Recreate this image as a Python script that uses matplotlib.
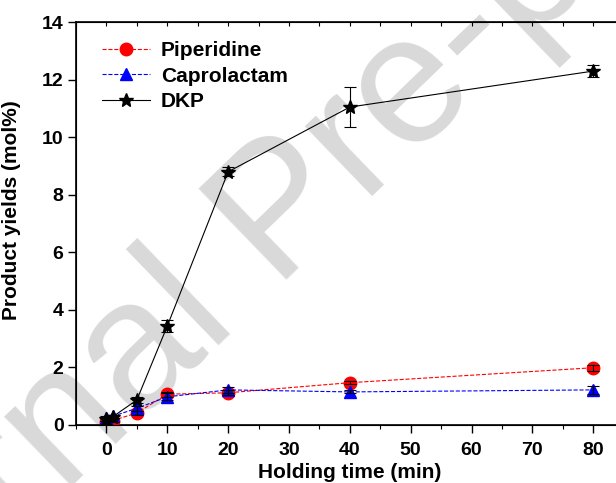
import matplotlib
matplotlib.use("Agg")
import matplotlib.pyplot as plt
from matplotlib.ticker import MultipleLocator

time_min = [0, 1, 5, 10, 20, 40, 80]

piperidine = [0.10, 0.15, 0.42, 1.07, 1.12, 1.47, 1.99]
piperidine_err = [0.05, 0.05, 0.08, 0.08, 0.08, 0.05, 0.10]

caprolactam = [0.25, 0.30, 0.58, 0.98, 1.22, 1.15, 1.22]
caprolactam_err = [0.05, 0.05, 0.08, 0.12, 0.10, 0.05, 0.15]

dkp = [0.20, 0.28, 0.87, 3.44, 8.80, 11.05, 12.30]
dkp_err = [0.05, 0.05, 0.10, 0.20, 0.15, 0.70, 0.22]

plt.rcParams['font.family'] = ['Liberation Sans', 'DejaVu Sans']
plt.rcParams['font.weight'] = 'bold'

fig = plt.figure(figsize=(6.16, 4.83), dpi=100)
ax = fig.add_axes([0.1234, 0.1201, 0.889, 0.834])

# watermark behind the data
ax.text(0.438, 0.434, "Journal Pre-proof", transform=ax.transAxes, rotation=44,
        rotation_mode="anchor", fontsize=132, color="#d9d9d9",
        ha="center", va="baseline", fontweight="normal", zorder=0.5,
        clip_on=False)

ax.plot(time_min, piperidine, color="red", linestyle="--", linewidth=0.8,
        marker="o", markersize=9, label="Piperidine", zorder=3)
ax.errorbar(time_min, piperidine, yerr=piperidine_err, fmt="none", ecolor="black",
            elinewidth=0.8, capsize=4, capthick=0.8, zorder=4)

ax.plot(time_min, caprolactam, color="blue", linestyle="--", linewidth=0.8,
        marker="^", markersize=9, label="Caprolactam", zorder=3)
ax.errorbar(time_min, caprolactam, yerr=caprolactam_err, fmt="none", ecolor="black",
            elinewidth=0.8, capsize=4, capthick=0.8, zorder=4)

ax.plot(time_min, dkp, color="black", linestyle="-", linewidth=0.8,
        marker="*", markersize=10, label="DKP", zorder=3)
ax.errorbar(time_min, dkp, yerr=dkp_err, fmt="none", ecolor="black",
            elinewidth=0.8, capsize=4, capthick=0.8, zorder=4)

ax.set_xlim(-5, 85)
ax.set_ylim(0, 14)
ax.xaxis.set_major_locator(MultipleLocator(10))
ax.xaxis.set_minor_locator(MultipleLocator(5))
ax.yaxis.set_major_locator(MultipleLocator(2))

for side in ["left", "bottom", "top"]:
    ax.spines[side].set_linewidth(1.2)
ax.spines["right"].set_visible(False)

ax.tick_params(axis="both", which="major", labelsize=14, width=1.0, length=6,
               direction="out", pad=3)
ax.tick_params(axis="x", which="major", pad=6)
ax.tick_params(axis="x", which="minor", width=0.8, length=3, direction="out")

# inward ticks along the top spine
top = ax.twiny()
top.set_xlim(ax.get_xlim())
top.xaxis.set_major_locator(MultipleLocator(5))
top.tick_params(axis="x", direction="in", length=3, width=0.8, labeltop=False)
top.spines["right"].set_visible(False)

ax.set_xlabel("Holding time (min)", fontsize=15, fontweight="bold", labelpad=3)
ax.set_ylabel("Product yields (mol%)", fontsize=15, fontweight="bold")
ax.yaxis.set_label_coords(-0.1, 0.534)

ax.legend(loc="upper left", bbox_to_anchor=(0.014, 1.0), frameon=False,
          handlelength=2.3, handletextpad=0.5, labelspacing=0.32,
          prop={"weight": "bold", "size": 15})

fig.savefig("out.png", dpi=100)
